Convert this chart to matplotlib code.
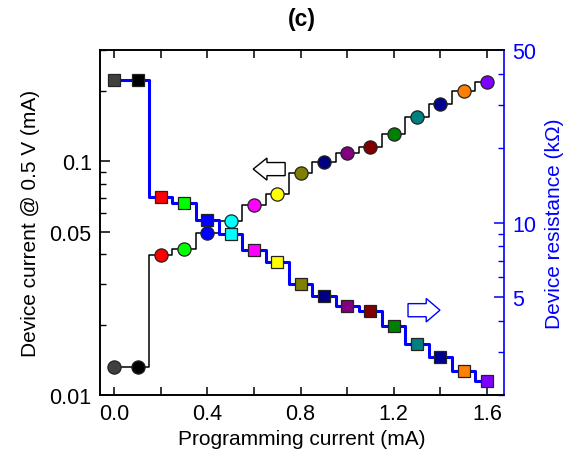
import matplotlib
matplotlib.use("Agg")
import matplotlib.pyplot as plt
import matplotlib.ticker as mticker
import matplotlib.patches as mpatches

plt.rcParams['font.family'] = ['Liberation Sans', 'DejaVu Sans']

# Data
prog_current = [0.0, 0.1, 0.2, 0.3, 0.4, 0.5, 0.6, 0.7, 0.8, 0.9, 1.0, 1.1, 1.2, 1.3, 1.4, 1.5, 1.6]
device_current = [0.0132, 0.0132, 0.0396, 0.0420, 0.0494, 0.0557, 0.0654, 0.0729, 0.0891,
                  0.0993, 0.1085, 0.1148, 0.1306, 0.1545, 0.1756, 0.1997, 0.2183]
device_resistance = [37.9, 37.9, 12.64, 11.95, 10.22, 9.02, 7.72, 6.90, 5.64, 5.04,
                     4.61, 4.38, 3.82, 3.23, 2.85, 2.50, 2.29]
point_colors = ['#404040', '#000000', '#ff0000', '#00ff00', '#0000ff', '#00ffff', '#ff00ff',
                '#ffff00', '#808000', '#000080', '#800080', '#800000', '#008000', '#008080',
                '#000090', '#ff8000', '#8000ff']
x_ticks = [0.0, 0.4, 0.8, 1.2, 1.6]
left_ticks = [0.01, 0.05, 0.1]
right_ticks = [5, 10, 50]

fig = plt.figure(figsize=(5.73, 4.6), dpi=100)
ax = fig.add_axes([0.1745, 0.139, 0.7055, 0.750])
ax2 = ax.twinx()

FS = 15
TFS = 15.5

# left: device current (circles)
ax.step(prog_current, device_current, where='mid', color='black', lw=1.1, zorder=2)
for x, y, c in zip(prog_current, device_current, point_colors):
    ax.plot([x], [y], marker='o', ms=9.5, mfc=c, mec='#222222', mew=0.9, ls='none', zorder=3)

# right: resistance (squares)
ax2.step(prog_current, device_resistance, where='mid', color='#0000ff', lw=2.2, zorder=2)
for x, y, c in zip(prog_current, device_resistance, point_colors):
    ax2.plot([x], [y], marker='s', ms=8.5, mfc=c, mec='#222222', mew=0.9, ls='none', zorder=3)

ax.set_yscale('log')
ax2.set_yscale('log')
ax.set_xlim(-0.061, 1.674)
ax.set_ylim(0.01, 0.30)
ax2.set_ylim(2.0, 50)

ax.xaxis.set_major_locator(mticker.FixedLocator(x_ticks))
ax.xaxis.set_minor_locator(mticker.MultipleLocator(0.2))
ax.xaxis.set_major_formatter(mticker.FormatStrFormatter('%.1f'))

ax.yaxis.set_major_locator(mticker.FixedLocator(left_ticks))
ax.yaxis.set_major_formatter(mticker.FixedFormatter(['0.01', '0.05', '0.1']))
ax.yaxis.set_minor_locator(mticker.FixedLocator([0.02, 0.03, 0.04, 0.06, 0.07, 0.08, 0.09, 0.2, 0.3]))
ax.yaxis.set_minor_formatter(mticker.NullFormatter())

ax2.yaxis.set_major_locator(mticker.FixedLocator(right_ticks))
ax2.yaxis.set_major_formatter(mticker.FixedFormatter(['5', '10', '50']))
ax2.yaxis.set_minor_locator(mticker.FixedLocator([2, 3, 4, 6, 7, 8, 9, 20, 30, 40]))
ax2.yaxis.set_minor_formatter(mticker.NullFormatter())

ax.tick_params(axis='x', which='both', direction='in', top=True, length=6, width=1.1, labelsize=TFS, pad=6)
ax.tick_params(axis='y', which='major', direction='in', length=7, width=1.1, labelsize=TFS, pad=6)
ax.tick_params(axis='y', which='minor', direction='in', length=4.5, width=1.0)
ax2.tick_params(axis='y', which='major', direction='in', length=7, width=1.1, labelsize=TFS,
                colors='#0000ff', pad=6)
ax2.tick_params(axis='y', which='minor', direction='in', length=4.5, width=1.0, colors='#0000ff')

for s in ['left', 'bottom', 'top']:
    ax.spines[s].set_linewidth(1.2)
    ax2.spines[s].set_linewidth(1.2)
ax2.spines['right'].set_color('#0000ff')
ax2.spines['right'].set_linewidth(1.2)
ax.spines['right'].set_visible(False)

ax.set_xlabel('Programming current (mA)', fontsize=FS, labelpad=3)
ax.set_ylabel('Device current @ 0.5 V (mA)', fontsize=FS, labelpad=7)
ax2.set_ylabel('Device resistance (k\u03a9)', fontsize=FS, color='#0000ff', labelpad=6)
ax.set_title('(c)', fontsize=16.5, fontweight='bold', pad=18)

# hollow arrows
arr_l = mpatches.FancyArrow(0.458, 0.655, -0.079, 0, width=0.038, head_width=0.064,
                            head_length=0.034, length_includes_head=True,
                            transform=ax.transAxes, fc='white', ec='black', lw=1.0, zorder=5)
ax.add_patch(arr_l)
arr_r = mpatches.FancyArrow(0.762, 0.246, 0.079, 0, width=0.038, head_width=0.068,
                            head_length=0.034, length_includes_head=True,
                            transform=ax.transAxes, fc='white', ec='#0000ff', lw=1.0, zorder=5)
ax2.add_patch(arr_r)

fig.savefig('out.png', dpi=100)
